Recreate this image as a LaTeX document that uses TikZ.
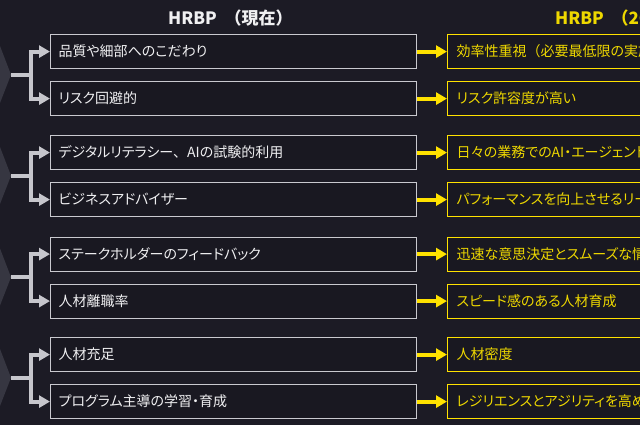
\documentclass[tikz,border=0pt]{standalone}
\usepackage{fontspec}
\usetikzlibrary{arrows.meta}
\newfontfamily\jp[RawFeature=+palt]{Noto Sans CJK JP}
\newfontfamily\jph{Noto Sans CJK JP}
\newcommand\fw[1]{{\jph #1}}
\definecolor{bg}{HTML}{1C1B25}
\definecolor{boxbg}{HTML}{191821}
\definecolor{wline}{HTML}{C9C9CF}
\definecolor{gline}{HTML}{C6C6CC}
\definecolor{yline}{HTML}{FFE200}
\definecolor{ytext}{HTML}{EED800}
\definecolor{chevc}{HTML}{363641}
\definecolor{wtext}{HTML}{F0F0F2}
\newcommand\hrgroup[6]{%
  \coordinate (c#1) at (11,#2+40.7);
  \fill[chevc] (0,#2+12) -- (c#1) -- (0,#2+69) -- cycle;
  \node[wbox, anchor=north west] (w#1a) at (50,#2) {#3};
  \node[wbox, anchor=north west] (w#1b) at (50,#2+47) {#4};
  \node[ybox, anchor=north west] (y#1a) at (447,#2) {#5};
  \node[ybox, anchor=north west] (y#1b) at (447,#2+47) {#6};
  \draw[garr] (c#1) -- ++(20,0) |- (w#1a.west);
  \draw[garr] (c#1) -- ++(20,0) |- (w#1b.west);
  \draw[yarr] (w#1a.east) -- (y#1a.west);
  \draw[yarr] (w#1b.east) -- (y#1b.west);
}
\begin{document}
\begin{tikzpicture}[x=1pt,y=-1pt,
  wbox/.style={draw=wline, line width=1.2pt, fill=boxbg, minimum height=34pt,
    text width=350pt, inner xsep=8pt, inner ysep=0pt, align=left, text=wtext,
    font=\jp\fontsize{14}{16}\selectfont},
  ybox/.style={draw=yline, line width=1.2pt, fill=boxbg, minimum height=34pt,
    text width=400pt, inner xsep=9pt, inner ysep=0pt, align=left, text=ytext,
    font=\jp\fontsize{14}{16}\selectfont},
  hdr/.style={font=\jph\bfseries\fontsize{17}{19}\selectfont, inner sep=0pt},
  garr/.style={draw=gline, line width=4pt, -{Triangle[length=11pt,width=12pt]}},
  yarr/.style={draw=yline, line width=4pt, -{Triangle[length=11pt,width=12pt]}}]
\useasboundingbox (0,0) rectangle (640,425);
\clip (0,0) rectangle (640,425);
\fill[bg] (0,0) rectangle (640,425);
\node[hdr, text=wtext, anchor=west] (h1) at (168,18.5) {HRBP \ （現在）};
\node[hdr, text=ytext, anchor=west] (h2) at (555,18.5) {HRBP \ （2030年）};
\hrgroup{1}{34}{品質や細部へのこだわり}{リスク回避的}{効率性重視\fw{（}必要最低限の実施\fw{）}}{リスク許容度が高い}
\hrgroup{2}{135}{デジタルリテラシー\fw{、}AIの試験的利用}{ビジネスアドバイザー}{日々の業務でのAI・エージェントの活用}{パフォーマンスを向上させるリーダーシップ}
\hrgroup{3}{236.5}{ステークホルダーのフィードバック}{人材離職率}{迅速な意思決定とスムーズな情報共有}{スピード感のある人材育成}
\hrgroup{4}{337}{人材充足}{プログラム主導の学習・育成}{人材密度}{レジリエンスとアジリティを高める学習}
\end{tikzpicture}
\end{document}
